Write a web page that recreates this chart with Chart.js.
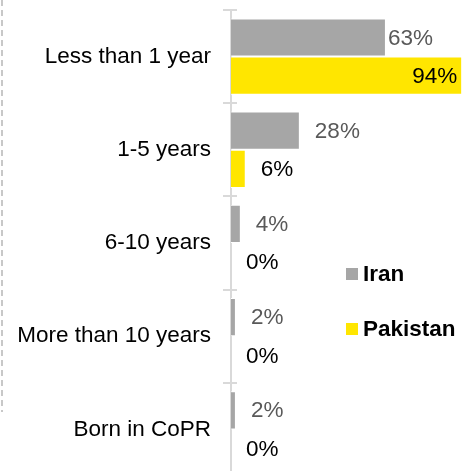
<!DOCTYPE html>
<html>
<head>
<meta charset="utf-8">
<script src="https://cdn.jsdelivr.net/npm/chart.js@4.4.0/dist/chart.umd.min.js"></script>
<style>
  html, body { margin: 0; padding: 0; background: #fff; overflow: hidden; }
  #wrap { position: relative; width: 472px; height: 476px; }
  #chart { display: block; }
  #legend {
    position: absolute; left: 346px; top: 260px;
    font: bold 22.5px "Liberation Sans", Arial, sans-serif; color: #000;
  }
  #legend .item { display: flex; align-items: center; height: 28px; margin-bottom: 27px; }
  #legend .box { width: 12px; height: 12px; margin-right: 5px; }
</style>
</head>
<body>
<div id="wrap">
  <canvas id="chart" width="472" height="476"></canvas>
  <div id="legend"></div>
</div>
<script>
// data
const categories = ['Less than 1 year', '1-5 years', '6-10 years', 'More than 10 years', 'Born in CoPR'];
const iran = [63, 28, 4, 2, 2];
const pakistan = [94, 6, 0, 0, 0];
const seriesNames = ['Iran', 'Pakistan'];
const barColors = ['#a6a6a6', '#ffe600'];
const labelColors = ['#595959', '#000000'];

const FONT = '"Liberation Sans", Arial, sans-serif';

// value labels drawn next to / inside each bar
const valueLabels = {
  id: 'valueLabels',
  afterDatasetsDraw(chart) {
    const ctx = chart.ctx;
    ctx.save();
    ctx.font = '22.5px ' + FONT;
    ctx.textBaseline = 'middle';
    chart.data.datasets.forEach((ds, i) => {
      chart.getDatasetMeta(i).data.forEach((bar, j) => {
        const v = ds.data[j];
        const text = v + '%';
        ctx.fillStyle = labelColors[i];
        if (v >= 90) {
          ctx.textAlign = 'right';
          ctx.fillText(text, bar.x - 5, bar.y + 1);
        } else {
          ctx.textAlign = 'left';
          ctx.fillText(text, bar.x + (v >= 50 ? 2 : 15), bar.y + 1);
        }
      });
    });
    ctx.restore();
  }
};

// dashed frame edge on the left + tick marks crossing the axis
const decor = {
  id: 'decor',
  beforeDraw(chart) {
    const ctx = chart.ctx;
    ctx.save();
    ctx.strokeStyle = '#c8c8c8';
    ctx.lineWidth = 2;
    ctx.setLineDash([6, 4]);
    ctx.beginPath();
    ctx.moveTo(2, 0);
    ctx.lineTo(2, 412);
    ctx.stroke();
    ctx.restore();
  },
  afterDraw(chart) {
    const y = chart.scales.y;
    const ctx = chart.ctx;
    const n = categories.length;
    const step = (y.bottom - y.top) / n;
    ctx.save();
    ctx.strokeStyle = '#d9d9d9';
    ctx.lineWidth = 2;
    ctx.beginPath();
    for (let i = 0; i <= n; i++) {
      const py = Math.round(y.top + i * step);
      ctx.moveTo(y.right, py);
      ctx.lineTo(y.right + 6, py);
    }
    ctx.stroke();
    ctx.restore();
  }
};

const chart = new Chart(document.getElementById('chart'), {
  type: 'bar',
  data: {
    labels: categories,
    datasets: [
      { label: seriesNames[0], data: iran, backgroundColor: barColors[0], borderColor: '#ffffff', borderWidth: 1 },
      { label: seriesNames[1], data: pakistan, backgroundColor: barColors[1], borderColor: '#ffffff', borderWidth: 1 }
    ]
  },
  options: {
    indexAxis: 'y',
    responsive: false,
    animation: false,
    layout: { padding: { top: 10, right: 0, bottom: 0, left: 0 } },
    datasets: { bar: { categoryPercentage: 0.82, barPercentage: 1 } },
    scales: {
      x: { min: 0, max: 98, display: false },
      y: {
        afterFit(scale) {
          scale.width = 231;
          scale.paddingTop = 0;
          scale.paddingBottom = 0;
        },
        border: { color: '#d9d9d9', width: 2 },
        grid: { drawOnChartArea: false, tickLength: 8, color: '#d9d9d9', lineWidth: 2, offset: true },
        ticks: { color: '#000', padding: 12, font: { size: 22.5, family: FONT } }
      }
    },
    plugins: {
      legend: { display: false },
      tooltip: { enabled: false }
    }
  },
  plugins: [valueLabels, decor]
});

// html legend built from the datasets
const legendEl = document.getElementById('legend');
chart.data.datasets.forEach(ds => {
  const item = document.createElement('div');
  item.className = 'item';
  item.innerHTML = `<span class="box" style="background:${ds.backgroundColor}"></span>${ds.label}`;
  legendEl.appendChild(item);
});
</script>
</body>
</html>
